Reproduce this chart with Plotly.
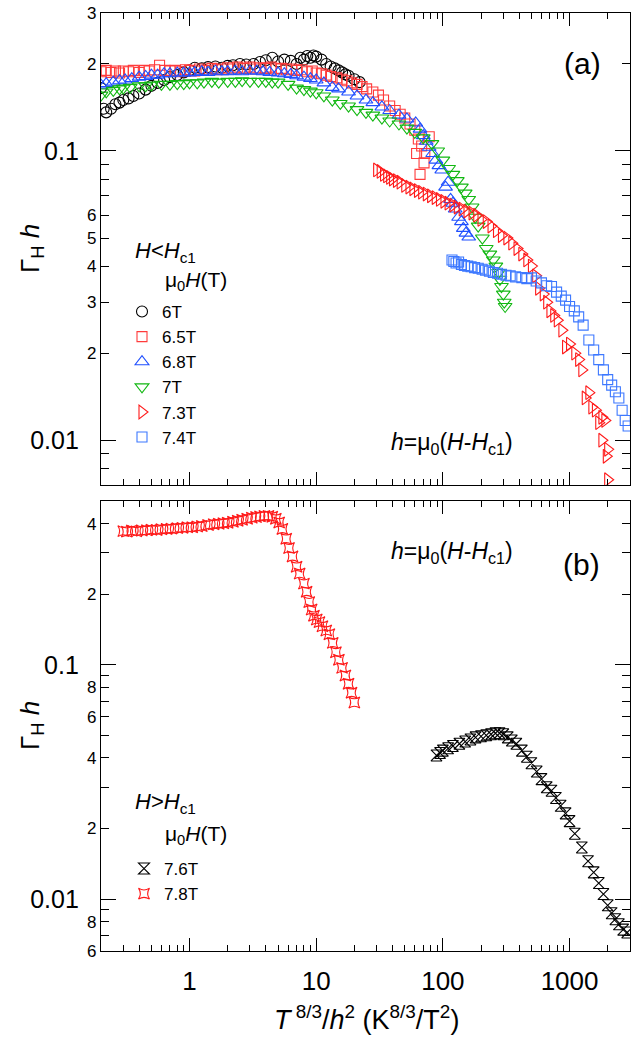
import math
import plotly.graph_objects as go

# ---------------- data ----------------
# Panel (a): H < Hc1
x_6T = [0.20, 0.21, 0.22, 0.24, 0.26, 0.28, 0.30, 0.33, 0.36, 0.40, 0.45, 0.50, 0.56, 0.63, 0.70,
        0.80, 0.90, 1.0, 1.1, 1.25, 1.4, 1.6, 1.8, 2.0, 2.2, 2.5, 2.8, 3.2, 3.6, 4.0, 4.5, 5.0,
        5.6, 6.3, 7.0, 7.5, 8.0, 8.5, 9.0, 9.5, 10, 11, 12, 13, 14, 15, 16, 17, 18, 20, 22]
y_6T = [0.165, 0.140, 0.136, 0.140, 0.145, 0.147, 0.150, 0.152, 0.155, 0.158, 0.163, 0.168, 0.172,
        0.176, 0.180, 0.183, 0.187, 0.190, 0.194, 0.193, 0.195, 0.196, 0.194, 0.197, 0.198, 0.200,
        0.199, 0.200, 0.203, 0.206, 0.210, 0.204, 0.207, 0.205, 0.200, 0.210, 0.207, 0.213, 0.210,
        0.214, 0.212, 0.207, 0.200, 0.196, 0.193, 0.190, 0.187, 0.184, 0.182, 0.177, 0.173]

x_65T = [0.20, 0.22, 0.24, 0.26, 0.28, 0.30, 0.33, 0.36, 0.40, 0.44, 0.48, 0.53, 0.58, 0.64, 0.70,
         0.77, 0.85, 0.93, 1.0, 1.1, 1.2, 1.35, 1.5, 1.65, 1.8, 2.0, 2.2, 2.4, 2.7, 3.0, 3.3, 3.6,
         4.0, 4.4, 4.8, 5.3, 5.8, 6.4, 7.0, 7.7, 8.5, 9.3, 10, 11, 12, 13, 14.5, 16, 17.5, 19, 21,
         23, 25, 28, 31, 34, 38, 42, 46, 50, 55, 60, 64, 68, 72, 78, 71, 66, 62]
y_65T = [0.188, 0.190, 0.187, 0.189, 0.186, 0.189, 0.188, 0.190, 0.187, 0.190, 0.189, 0.191, 0.198,
         0.190, 0.189, 0.190, 0.188, 0.191, 0.190, 0.189, 0.192, 0.190, 0.193, 0.191, 0.192, 0.194,
         0.192, 0.195, 0.193, 0.195, 0.192, 0.194, 0.193, 0.195, 0.192, 0.193, 0.191, 0.192, 0.190,
         0.191, 0.188, 0.189, 0.186, 0.185, 0.183, 0.181, 0.179, 0.177, 0.175, 0.172, 0.170, 0.167,
         0.164, 0.160, 0.156, 0.150, 0.143, 0.138, 0.134, 0.130, 0.124, 0.118, 0.110, 0.104, 0.098,
         0.112, 0.091, 0.083, 0.098]

x_68T = [0.20, 0.22, 0.25, 0.28, 0.31, 0.35, 0.40, 0.45, 0.50, 0.56, 0.63, 0.70, 0.80, 0.90, 1.0,
         1.1, 1.25, 1.4, 1.6, 1.8, 2.0, 2.3, 2.6, 3.0, 3.4, 3.8, 4.3, 5.0, 5.6, 6.3, 7.0, 8.0, 9.0,
         10, 11.5, 13.4, 15, 18, 21, 24.7, 28, 33, 38, 45, 52, 61, 66, 70, 74, 78, 83, 88, 93, 98,
         105, 110, 115, 120, 125, 133, 140, 145, 152, 160]
y_68T = [0.169, 0.171, 0.173, 0.175, 0.176, 0.178, 0.180, 0.181, 0.183, 0.183, 0.185, 0.185, 0.186,
         0.186, 0.186, 0.187, 0.188, 0.187, 0.189, 0.188, 0.188, 0.189, 0.188, 0.189, 0.189, 0.188,
         0.187, 0.186, 0.185, 0.184, 0.182, 0.180, 0.178, 0.176, 0.172, 0.166, 0.164, 0.160, 0.155,
         0.150, 0.147, 0.142, 0.138, 0.133, 0.129, 0.125, 0.119, 0.113, 0.108, 0.103, 0.098, 0.093,
         0.089, 0.086, 0.075, 0.078, 0.068, 0.066, 0.063, 0.059, 0.057, 0.054, 0.052, 0.0504]

x_7T = [0.20, 0.22, 0.25, 0.28, 0.30, 0.34, 0.40, 0.45, 0.50, 0.60, 0.70, 0.80, 0.90, 1.0, 1.15,
        1.3, 1.5, 1.7, 2.0, 2.3, 2.6, 3.0, 3.5, 4.0, 4.5, 5.0, 6.0, 7.0, 8.0, 9.0, 10, 11.5, 13.4,
        15.5, 18, 21, 24.7, 28, 33, 38, 45, 52, 60, 70, 82, 91, 100, 111, 120, 130, 140, 150, 160,
        170, 180, 190, 205, 220, 235, 250, 262, 275, 282, 290, 300, 310, 305]
y_7T = [0.156, 0.160, 0.162, 0.164, 0.165, 0.166, 0.168, 0.168, 0.169, 0.170, 0.170, 0.171, 0.171,
        0.172, 0.172, 0.173, 0.174, 0.173, 0.174, 0.174, 0.175, 0.174, 0.174, 0.174, 0.173, 0.173,
        0.170, 0.165, 0.163, 0.161, 0.159, 0.155, 0.150, 0.146, 0.143, 0.139, 0.136, 0.133, 0.130,
        0.127, 0.124, 0.120, 0.116, 0.111, 0.106, 0.100, 0.093, 0.087, 0.083, 0.079, 0.075, 0.0715,
        0.068, 0.064, 0.059, 0.055, 0.050, 0.046, 0.044, 0.042, 0.040, 0.038, 0.036, 0.034, 0.032,
        0.029, 0.030]

x_73T = [30, 32, 34, 36, 38, 40, 43, 46, 50, 54, 58, 63, 68, 74, 80, 87, 94, 102, 110, 120, 130,
         142, 155, 170, 185, 200, 220, 240, 265, 290, 320, 350, 385, 420, 460, 500, 540, 570, 620,
         660, 700, 750, 800, 870, 930, 1000, 1100, 1180, 1250, 1330, 1420, 1500, 1600, 1700, 1800,
         1900, 1800, 2000, 1950, 2000]
y_73T = [0.086, 0.085, 0.083, 0.082, 0.081, 0.080, 0.079, 0.078, 0.076, 0.075, 0.074, 0.073, 0.072,
         0.071, 0.070, 0.069, 0.068, 0.067, 0.066, 0.065, 0.064, 0.063, 0.062, 0.061, 0.060, 0.058,
         0.057, 0.055, 0.053, 0.051, 0.050, 0.048, 0.046, 0.044, 0.042, 0.040, 0.037, 0.0335, 0.032,
         0.030, 0.028, 0.027, 0.026, 0.024, 0.021, 0.0215, 0.020, 0.019, 0.0175, 0.014, 0.0146, 0.013,
         0.0127, 0.0115, 0.0100, 0.0117, 0.0120, 0.0093, 0.0088, 0.0073]

x_74T = [118, 122, 127, 133, 140, 148, 157, 167, 178, 190, 204, 217, 233, 250, 270, 290, 315, 340,
         375, 420, 460, 500, 545, 600, 660, 720, 790, 860, 930, 1000, 1090, 1180, 1280, 1420, 1550,
         1700, 1850, 2000, 2150, 2300, 2450, 2600, 2750, 2900]
y_74T = [0.042, 0.0415, 0.041, 0.0413, 0.0405, 0.0402, 0.040, 0.0398, 0.0395, 0.0393, 0.039, 0.0387,
         0.0384, 0.038, 0.0378, 0.0375, 0.0372, 0.037, 0.0367, 0.0365, 0.0362, 0.0364, 0.0355, 0.035,
         0.0342, 0.034, 0.0325, 0.0315, 0.0305, 0.029, 0.028, 0.0267, 0.025, 0.0222, 0.0205, 0.019,
         0.0175, 0.0162, 0.0155, 0.0147, 0.014, 0.0127, 0.0117, 0.0112]

# Panel (b): H > Hc1
x_76T = [89, 95, 100, 110, 120, 135, 150, 165, 181, 200, 220, 240, 260, 280, 300, 325, 350, 380,
         420, 460, 500, 550, 600, 660, 720, 780, 850, 930, 1000, 1100, 1250, 1400, 1550, 1700,
         1850, 2000, 2150, 2300, 2450, 2650, 2850]
y_76T = [0.041, 0.042, 0.043, 0.044, 0.045, 0.046, 0.047, 0.048, 0.049, 0.0495, 0.050, 0.0505,
         0.051, 0.051, 0.0505, 0.049, 0.0475, 0.046, 0.043, 0.0405, 0.038, 0.035, 0.0325, 0.030,
         0.029, 0.027, 0.025, 0.0232, 0.0215, 0.019, 0.0166, 0.0145, 0.013, 0.0117, 0.0105,
         0.0094, 0.0087, 0.0082, 0.0078, 0.0074, 0.0072]

x_78T = [0.30, 0.32, 0.35, 0.38, 0.42, 0.46, 0.50, 0.55, 0.60, 0.66, 0.72, 0.80, 0.88, 0.96, 1.05,
         1.15, 1.25, 1.4, 1.55, 1.7, 1.85, 2.0, 2.2, 2.4, 2.6, 2.85, 3.1, 3.35, 3.6, 3.9, 4.2, 4.5,
         4.8, 5.1, 5.4, 5.8, 6.1, 6.5, 7.0, 7.4, 8.0, 8.4, 8.8, 9.2, 9.6, 10.1, 10.6, 11.2, 12.0,
         12.7, 13.5, 14.3, 15.1, 16.0, 17.0, 18.0, 19.0, 20.0]
y_78T = [0.372, 0.370, 0.374, 0.371, 0.374, 0.375, 0.377, 0.376, 0.379, 0.380, 0.381, 0.383, 0.384,
         0.386, 0.386, 0.389, 0.391, 0.395, 0.398, 0.400, 0.402, 0.404, 0.408, 0.412, 0.416, 0.420,
         0.424, 0.427, 0.430, 0.432, 0.432, 0.428, 0.420, 0.405, 0.380, 0.345, 0.315, 0.290, 0.262,
         0.245, 0.222, 0.205, 0.185, 0.172, 0.162, 0.156, 0.152, 0.146, 0.140, 0.135, 0.124, 0.113,
         0.105, 0.097, 0.090, 0.083, 0.076, 0.069]

# axis ranges / ticks
x_range = [0.2, 3000]
ya_range = [0.007, 0.3]
yb_range = [0.006, 0.5]
x_major = [1, 10, 100, 1000]
x_major_text = ["1", "10", "100", "1000"]
x_minor = [m * d for d in [0.1, 1, 10, 100, 1000] for m in range(2, 10)]
ya_small_vals = [0.3, 0.2, 0.06, 0.05, 0.04, 0.03, 0.02]
ya_small_text = ["3", "2", "6", "5", "4", "3", "2"]
ya_minor = [0.09, 0.08, 0.07, 0.009, 0.008]
yb_small_vals = [0.4, 0.2, 0.08, 0.06, 0.04, 0.02, 0.008, 0.006]
yb_small_text = ["4", "2", "8", "6", "4", "2", "8", "6"]
yb_minor = [0.3, 0.09, 0.07, 0.05, 0.03, 0.009, 0.007]
y_big_vals = [0.1, 0.01]
y_big_text = ["0.1", "0.01"]

# ---------------- figure ----------------
FONT = "Liberation Sans, Arial, sans-serif"
W, H = 631, 1038
L, R, T, B = 101, 1, 13, 87
ph = H - T - B


def py(px):
    return 1 - (px - T) / ph


def pxx(px):
    return (px - L) / (W - L - R)


RED = "#ff1a1a"
RED2 = "#ff3b3b"
BLUE = "#1f4fff"
BLUE2 = "#3d78ff"
GREEN = "#12b812"

fig = go.Figure()


def add(x, y, name, symbol, color, size, xa, ya, legend):
    fig.add_trace(go.Scatter(
        x=x, y=y, mode="markers", name=name, xaxis=xa, yaxis=ya, legend=legend,
        marker=dict(symbol=symbol, size=size, color=color,
                    line=dict(color=color, width=1.1))))


add(x_6T, y_6T, "6T", "circle-open", "black", 11, "x", "y", "legend")
add(x_65T, y_65T, "6.5T", "square-open", RED2, 10, "x", "y", "legend")
add(x_68T, y_68T, "6.8T", "triangle-up-open", BLUE, 12, "x", "y", "legend")
add(x_7T, y_7T, "7T", "triangle-down-open", GREEN, 12, "x", "y", "legend")
add(x_73T, y_73T, "7.3T", "triangle-right-open", RED, 12, "x", "y", "legend")
add(x_74T, y_74T, "7.4T", "square-open", BLUE2, 10, "x", "y", "legend")
add(x_76T, y_76T, "7.6T", "hourglass-open", "black", 11, "x2", "y2", "legend2")
add(x_78T, y_78T, "7.8T", "star-square-open", RED, 10, "x2", "y2", "legend2")

# empty traces to materialise the overlay axes (long ticks, big labels)
fig.add_trace(go.Scatter(x=[], y=[], xaxis="x", yaxis="y3", showlegend=False))
fig.add_trace(go.Scatter(x=[], y=[], xaxis="x2", yaxis="y4", showlegend=False))

lg = [math.log10(v) for v in x_range]
axis_common = dict(type="log", showline=True, linecolor="black", linewidth=1.4,
                   mirror="ticks", ticks="inside", tickcolor="black", tickwidth=1.3,
                   showgrid=False, zeroline=False, automargin=False)
xcommon = dict(axis_common, range=lg, tickmode="array", tickvals=x_major, ticktext=x_major_text,
               ticklen=13,
               minor=dict(tickmode="array", tickvals=x_minor, ticklen=6, ticks="inside",
                          tickcolor="black", tickwidth=1.3, showgrid=False),
               tickfont=dict(family=FONT, size=26, color="black"))

da = [py(485), 1.0]
db = [0.0, py(501)]

fig.update_layout(
    width=W, height=H, margin=dict(l=L, r=R, t=T, b=B, autoexpand=False),
    paper_bgcolor="white", plot_bgcolor="white",
    font=dict(family=FONT, color="black"),
    xaxis=dict(xcommon, anchor="y", showticklabels=False),
    xaxis2=dict(xcommon, anchor="y2", matches="x", showticklabels=True, ticklabelstandoff=7),
    yaxis=dict(axis_common, domain=da, anchor="x",
               range=[math.log10(v) for v in ya_range],
               tickmode="array", tickvals=ya_small_vals, ticktext=ya_small_text, ticklen=8,
               ticklabelstandoff=0,
               tickfont=dict(family=FONT, size=17, color="black"),
               minor=dict(tickmode="array", tickvals=ya_minor, ticklen=8, ticks="inside",
                          tickcolor="black", tickwidth=1.3, showgrid=False)),
    yaxis3=dict(axis_common, overlaying="y", anchor="x", side="left",
                range=[math.log10(v) for v in ya_range],
                tickmode="array", tickvals=y_big_vals, ticktext=y_big_text, ticklen=15,
                ticklabelstandoff=16,
                tickfont=dict(family=FONT, size=25, color="black")),
    yaxis2=dict(axis_common, domain=db, anchor="x2",
                range=[math.log10(v) for v in yb_range],
                tickmode="array", tickvals=yb_small_vals, ticktext=yb_small_text, ticklen=8,
                ticklabelstandoff=0,
                tickfont=dict(family=FONT, size=17, color="black"),
                minor=dict(tickmode="array", tickvals=yb_minor, ticklen=8, ticks="inside",
                           tickcolor="black", tickwidth=1.3, showgrid=False)),
    yaxis4=dict(axis_common, overlaying="y2", anchor="x2", side="left",
                range=[math.log10(v) for v in yb_range],
                tickmode="array", tickvals=y_big_vals, ticktext=y_big_text, ticklen=15,
                ticklabelstandoff=16,
                tickfont=dict(family=FONT, size=25, color="black")),
    legend=dict(x=pxx(122), y=py(294), xanchor="left", yanchor="top",
                bgcolor="rgba(0,0,0,0)", font=dict(family=FONT, size=17, color="black"),
                itemsizing="trace", tracegroupgap=0),
    legend2=dict(x=pxx(124), y=py(851), xanchor="left", yanchor="top",
                 bgcolor="rgba(0,0,0,0)", font=dict(family=FONT, size=17, color="black"),
                 itemsizing="trace", tracegroupgap=0),
    showlegend=True,
)


def note(text, x, y, size, xanchor="left", angle=0):
    fig.add_annotation(text=text, x=pxx(x), y=py(y), xref="paper", yref="paper",
                       xanchor=xanchor, yanchor="middle", showarrow=False, textangle=angle,
                       font=dict(family=FONT, size=size, color="black"))


note("<i>H</i>&lt;<i>H</i><sub>c1</sub>", 133, 252, 22)
note("μ<sub>0</sub><i>H</i>(T)", 163, 281, 21)
note("<i>H</i>&gt;<i>H</i><sub>c1</sub>", 133, 803, 22)
note("μ<sub>0</sub><i>H</i>(T)", 163, 835, 21)
note("(a)", 582, 63, 30, xanchor="center")
note("(b)", 581, 564, 30, xanchor="center")
note("<i>h</i>=μ<sub>0</sub>(<i>H</i>-<i>H</i><sub>c1</sub>)", 452, 443, 23, xanchor="center")
note("<i>h</i>=μ<sub>0</sub>(<i>H</i>-<i>H</i><sub>c1</sub>)", 452, 552, 23, xanchor="center")
note("Γ<sub>H</sub> <i>h</i>", 31, 249, 26, xanchor="center", angle=-90)
note("Γ<sub>H</sub> <i>h</i>", 31, 726, 26, xanchor="center", angle=-90)
note("<i>T</i><sup> 8/3</sup>/<i>h</i><sup>2</sup> (K<sup>8/3</sup>/T<sup>2</sup>)",
     366, 1018, 27, xanchor="center")

fig.write_html("out.html", config={"displayModeBar": False},
               post_script="document.body.style.margin='0';document.body.style.padding='0';")
